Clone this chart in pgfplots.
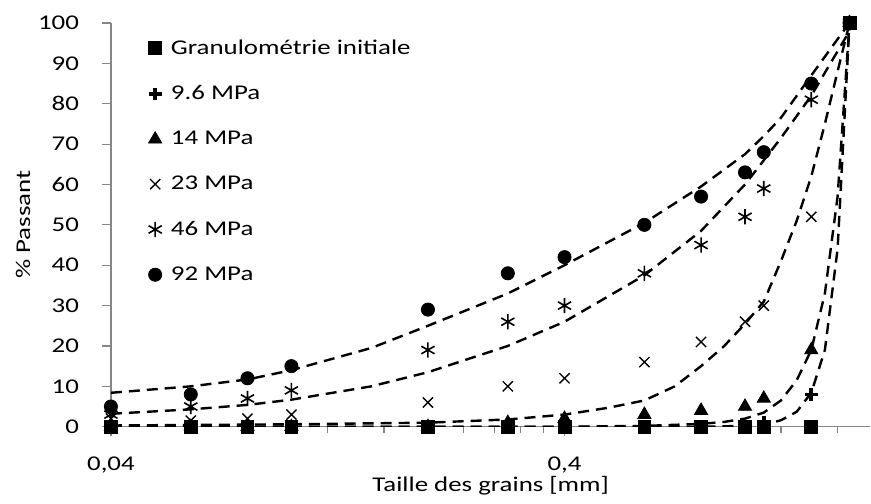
\documentclass[border=0pt]{standalone}
\usepackage{pgfplots}
\pgfplotsset{compat=1.18}
\usepackage{pgfplotstable}
\usepackage{fontspec}
\setmainfont{Carlito}[FakeStretch=1.28]

\definecolor{axisgray}{HTML}{868686}

% measured points (% passant) for each pressure
\pgfplotstableread{
x     init  p96  p14  p23  p46  p92
0.04  0     0    0    2    3    5
0.06  0     0    0    1.5  5    8
0.08  0     0    0    2    7    12
0.1   0     0    0    3    9    15
0.2   0     0    0    6    19   29
0.3   0     0    1    10   26   38
0.4   0     0    2    12   30   42
0.6   0     0    3    16   38   50
0.8   0     0    4    21   45   57
1.0   0     0    5    26   52   63
1.1   0     1    7    30   59   68
1.4   0     8    19   52   81   85
1.7   100   100  100  100  100  100
}\grains

\begin{document}
\begin{tikzpicture}
\begin{axis}[
    scale only axis,
    width=380pt, height=202pt,
    xmode=log, log basis x=10,
    xmin=0.04, xmax=1.89,
    ymin=0, ymax=100,
    axis lines*=left,
    axis line style={axisgray, line width=0.6pt},
    every tick/.style={axisgray, line width=0.6pt},
    tick align=outside,
    major tick length=4.5pt, minor tick length=3pt,
    xtick={0.04,0.4},
    xticklabels={{0,04},{0,4}},
    minor xtick={0.08,0.12,0.16,0.2,0.24,0.28,0.32,0.36,0.8,1.2,1.6},
    ytick={0,10,...,100},
    log ticks with fixed point,
    tick label style={font=\fontsize{10.5}{12.5}\selectfont, black},
    xticklabel style={yshift=-7pt},
    yticklabel style={xshift=-8pt},
    /pgf/number format/assume math mode=true,
    xlabel={Taille des grains [mm]},
    ylabel={\% Passant},
    label style={font=\fontsize{10.5}{12.5}\selectfont},
    xlabel style={yshift=5pt},
    ylabel style={yshift=-3pt},
    legend style={draw=none, fill=none, at={(axis description cs:0.046,0.97)}, anchor=north west,
        font=\fontsize{10.5}{12.5}\selectfont, row sep=10.2pt, inner sep=0pt},
    legend cell align=left,
    legend image code/.code={\draw[mark repeat=2,mark phase=2] plot coordinates {(0cm,0cm) (0.15cm,0cm) (0.3cm,0cm)};
        \path (0cm,0cm) (0.35cm,0cm);},
]
% trendlines
\pgfplotsset{trend/.style={black, line width=1.2pt, dash pattern=on 5.5pt off 3.5pt, forget plot}}
\addplot[trend] coordinates {(0.04,8.4) (0.06,10) (0.08,11.7) (0.1,14) (0.15,19.5) (0.2,25) (0.3,33) (0.4,40) (0.6,50.5) (0.8,59.5) (1.0,67.5) (1.1,72) (1.2,76.5) (1.4,87) (1.6,96) (1.7,100)};
\addplot[trend] coordinates {(0.04,3.2) (0.06,4.3) (0.08,5.4) (0.1,6.7) (0.15,10) (0.2,13.5) (0.3,20) (0.4,26) (0.6,37.5) (0.8,48.5) (1.0,60) (1.1,66) (1.2,71.5) (1.4,82) (1.6,93) (1.7,98)};
\addplot[trend] coordinates {(0.04,0.3) (0.1,0.6) (0.2,1) (0.3,1.8) (0.4,3) (0.5,4.7) (0.6,6.5) (0.7,10) (0.8,15) (0.9,20) (1.0,25.5) (1.1,31) (1.2,41) (1.3,51) (1.4,62) (1.5,75) (1.6,88) (1.7,100)};
\addplot[trend] coordinates {(0.04,0) (0.4,0) (0.6,0.2) (0.8,0.7) (0.9,1.2) (1.0,2) (1.1,3.5) (1.2,6.5) (1.3,11.5) (1.4,19) (1.5,33) (1.6,57) (1.7,100)};
\addplot[trend] coordinates {(0.04,0) (0.8,0) (1.0,0.2) (1.1,0.5) (1.2,1.6) (1.3,3.7) (1.4,8.4) (1.5,19) (1.6,44) (1.7,100)};

\addplot[only marks, mark=square*, mark size=3.2pt, black] table[y=init] {\grains};
\addlegendentry{Granulométrie initiale}
\addplot[only marks, mark=+, mark size=3.2pt, black, mark options={line width=1.8pt}] table[y=p96] {\grains};
\addlegendentry{9.6 MPa}
\addplot[only marks, mark=triangle*, mark size=3.8pt, black] table[y=p14] {\grains};
\addlegendentry{14 MPa}
\addplot[only marks, mark=x, mark size=3.6pt, black, mark options={line width=0.7pt}] table[y=p23] {\grains};
\addlegendentry{23 MPa}
\addplot[only marks, mark=asterisk, mark size=3.8pt, black, mark options={line width=0.8pt}] table[y=p46] {\grains};
\addlegendentry{46 MPa}
\addplot[only marks, mark=*, mark size=3.3pt, black] table[y=p92] {\grains};
\addlegendentry{92 MPa}
\end{axis}
% page margins as in the reference
\path ([shift={(-55.5pt,-38.5pt)}]current axis.south west) rectangle ([yshift=11.5pt]current axis.north east);
\end{tikzpicture}
\end{document}
